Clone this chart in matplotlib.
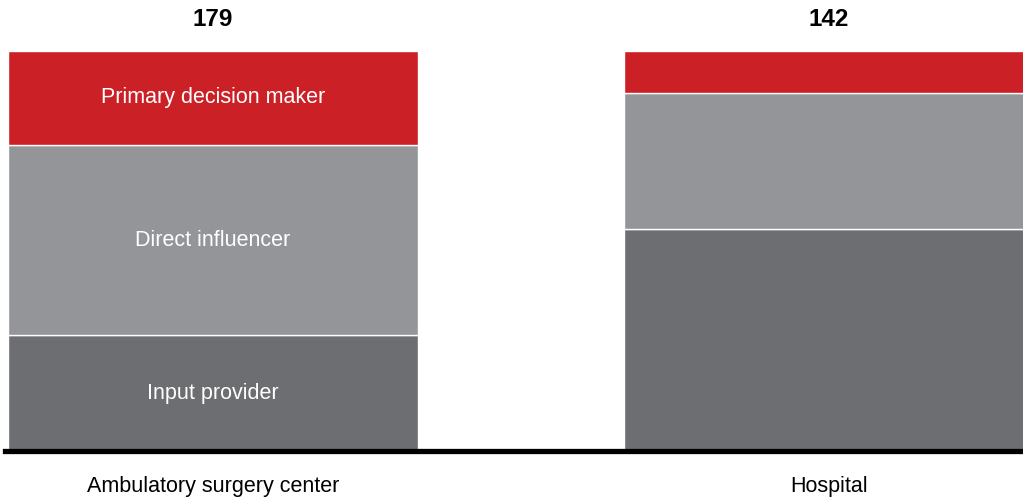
import matplotlib.pyplot as plt
import numpy as np

plt.rcParams['font.family'] = ['Liberation Sans', 'DejaVu Sans']

categories = ["Ambulatory surgery center", "Hospital"]
totals = [179, 142]
segments = ["Input provider", "Direct influencer", "Primary decision maker"]
# share of respondents (%), bottom to top
input_provider = [29.0, 55.5]
direct_influencer = [47.5, 34.0]
primary_decision = [23.5, 10.5]
colors = ["#6D6E71", "#939598", "#CC2027"]

fig = plt.figure(figsize=(10.23, 5.0), dpi=100)
ax = fig.add_axes([5 / 1023, 1 - 451 / 500, 1 - 5 / 1023, 400 / 500])

x = np.arange(len(categories))
width = 410 / 616
bottom = np.zeros(len(categories))
for name, vals, col in zip(segments, [input_provider, direct_influencer, primary_decision], colors):
    ax.bar(x, vals, width, bottom=bottom, color=col, edgecolor="white", linewidth=1.0)
    # segment names only on the first bar
    ax.text(x[0], bottom[0] + vals[0] / 2, name, ha="center", va="center",
            color="white", fontsize=15.5)
    bottom += np.array(vals)

for xi, t in zip(x, totals):
    ax.text(xi, 107.8, str(t), ha="center", va="center", fontsize=17.5, fontweight="bold")
    ax.text(xi, -8.8, categories[xi], ha="center", va="center", fontsize=15.5)

ax.axhline(0, color="black", linewidth=3.8, zorder=5, clip_on=False)
ax.set_xlim((5 - 213) / 616, (1023 - 213) / 616)
ax.set_ylim(0, 100)
ax.axis("off")

fig.savefig("out.png", dpi=100)
